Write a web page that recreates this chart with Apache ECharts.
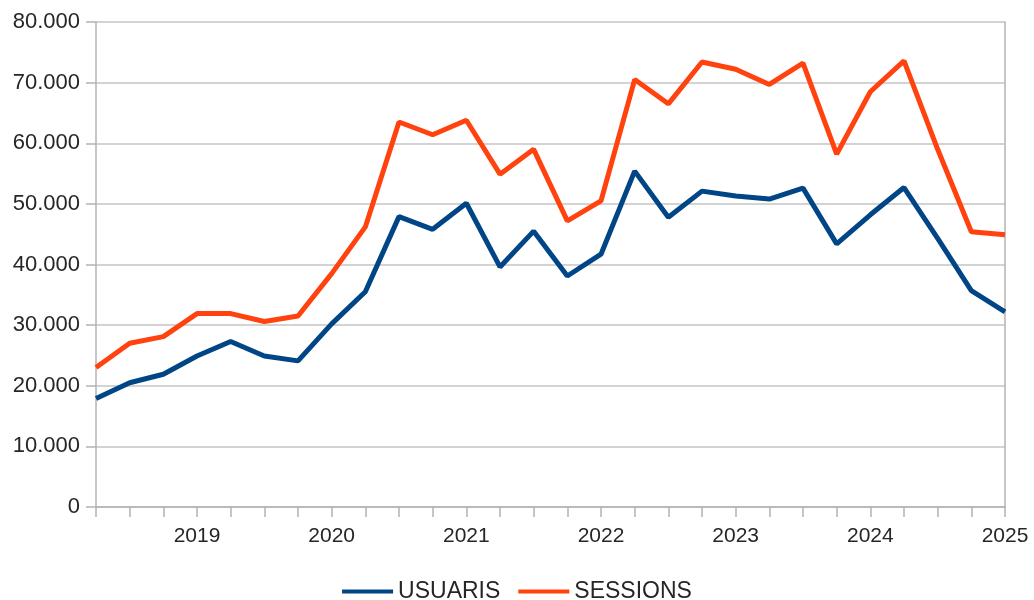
<!DOCTYPE html>
<html>
<head>
<meta charset="utf-8">
<script src="https://cdn.jsdelivr.net/npm/echarts@6/dist/echarts.min.js"></script>
<style>
  html, body { margin: 0; padding: 0; background: #fff; }
  #chart { width: 1034px; height: 600px; }
</style>
</head>
<body>
<div id="chart"></div>
<script>
// quarters, T2 2018 .. T1 2025
const quarters = [
  '2018 T2', '2018 T3', '2018 T4',
  '2019 T1', '2019 T2', '2019 T3', '2019 T4',
  '2020 T1', '2020 T2', '2020 T3', '2020 T4',
  '2021 T1', '2021 T2', '2021 T3', '2021 T4',
  '2022 T1', '2022 T2', '2022 T3', '2022 T4',
  '2023 T1', '2023 T2', '2023 T3', '2023 T4',
  '2024 T1', '2024 T2', '2024 T3', '2024 T4',
  '2025 T1'
];
const usuaris = [
  17900, 20500, 21900, 24900, 27300, 24900, 24100, 30200, 35500, 47900,
  45800, 50100, 39600, 45500, 38100, 41700, 55400, 47800, 52100, 51300,
  50800, 52600, 43400, 48200, 52700, 44300, 35700, 32200
];
const sessions = [
  23000, 27000, 28100, 31900, 31900, 30600, 31500, 38500, 46200, 63500,
  61400, 63800, 54900, 59000, 47200, 50500, 70500, 66500, 73400, 72200,
  69700, 73200, 58200, 68500, 73600, 59000, 45400, 44900
];

const font = 'Liberation Sans';
const textColor = '#262626';
const gridColor = '#c4c4c4';
const axisColor = '#b3b3b3';

function fmtThousands(v) {
  return String(v).replace(/\B(?=(\d{3})+(?!\d))/g, '.');
}

const chart = echarts.init(document.getElementById('chart'));
chart.setOption({
  backgroundColor: '#fff',
  animation: false,
  textStyle: { fontFamily: font },
  grid: { left: 96, right: 29, top: 22, bottom: 93 },
  legend: {
    top: 575,
    left: 'center',
    icon: 'rect',
    itemWidth: 51,
    itemHeight: 4,
    itemGap: 18,
    textStyle: { fontSize: 23, color: textColor, fontFamily: font },
    data: ['USUARIS', 'SESSIONS']
  },
  xAxis: {
    type: 'category',
    data: quarters,
    boundaryGap: false,
    axisLine: { lineStyle: { color: axisColor, width: 1.5 } },
    axisTick: { interval: 0, length: 10, lineStyle: { color: axisColor, width: 1.5 } },
    axisLabel: {
      interval: 0,
      margin: 19,
      fontSize: 21,
      color: textColor,
      fontFamily: font,
      formatter: function (v) { return v.endsWith('T1') ? v.slice(0, 4) : ''; }
    },
    splitLine: { show: false }
  },
  yAxis: [{
    type: 'value',
    min: 0,
    max: 80000,
    interval: 10000,
    axisLine: { show: true, lineStyle: { color: axisColor, width: 1.5 } },
    axisTick: { show: true, length: 10, lineStyle: { color: axisColor, width: 1.5 } },
    axisLabel: {
      margin: 16,
      fontSize: 22,
      color: textColor,
      fontFamily: font,
      formatter: fmtThousands
    },
    splitLine: { lineStyle: { color: gridColor, width: 1.5 } }
  }, {
    type: 'value',
    position: 'right',
    min: 0,
    max: 80000,
    interval: 10000,
    axisLine: { show: true, lineStyle: { color: axisColor, width: 1.5 } },
    axisTick: { show: false },
    axisLabel: { show: false },
    splitLine: { show: false }
  }],
  series: [{
    name: 'USUARIS',
    type: 'line',
    data: usuaris,
    showSymbol: false,
    symbol: 'none',
    color: '#004586',
    lineStyle: { width: 5, color: '#004586' }
  }, {
    name: 'SESSIONS',
    type: 'line',
    data: sessions,
    showSymbol: false,
    symbol: 'none',
    color: '#ff420e',
    lineStyle: { width: 5, color: '#ff420e' }
  }]
});
</script>
</body>
</html>
